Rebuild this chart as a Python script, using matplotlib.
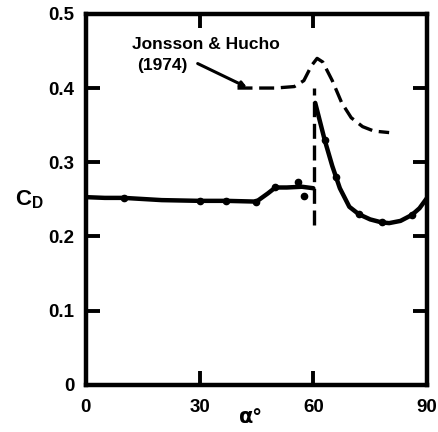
import matplotlib
matplotlib.use("Agg")
import matplotlib.pyplot as plt

# Present data (solid curve), below and above the drag jump
low_x = [0, 5, 10, 20, 30, 37, 45, 48, 50, 53, 57, 60]
low_y = [0.253, 0.252, 0.252, 0.249, 0.248, 0.248, 0.247, 0.258, 0.266, 0.266, 0.267, 0.265]
high_x = [60.5, 61.5, 63, 65, 67, 69.5, 72, 75, 78, 80, 83, 86, 88, 90]
high_y = [0.38, 0.36, 0.33, 0.295, 0.265, 0.24, 0.23, 0.223, 0.219, 0.218, 0.221, 0.229, 0.238, 0.252]
marker_x = [10, 30, 37, 45, 50, 56, 57.5, 63, 66, 72, 78, 86]
marker_y = [0.252, 0.248, 0.248, 0.247, 0.266, 0.273, 0.255, 0.33, 0.28, 0.23, 0.219, 0.229]

# Jonsson & Hucho (1974), dashed curve
ref_x = [40, 45, 50, 55, 57.5, 59.5, 61, 62.5, 65, 67.5, 70, 73, 76, 80]
ref_y = [0.40, 0.40, 0.40, 0.402, 0.41, 0.43, 0.44, 0.435, 0.41, 0.38, 0.36, 0.348, 0.342, 0.34]
jump_x = [60.3, 60.3]
jump_y = [0.215, 0.40]

xticks = [0, 30, 60, 90]
xtick_labels = ["0", "30", "60", "90"]
yticks = [0, 0.1, 0.2, 0.3, 0.4, 0.5]
ytick_labels = ["0", "0.1", "0.2", "0.3", "0.4", "0.5"]

font = {"family": "Liberation Sans", "weight": "heavy"}

fig = plt.figure(figsize=(4.38, 4.32), dpi=100)
ax = fig.add_axes([0.196, 0.109, 0.779, 0.859])

ax.plot(low_x, low_y, color="black", lw=3.2, solid_capstyle="round")
ax.plot(high_x, high_y, color="black", lw=3.2, solid_capstyle="round")
ax.plot(marker_x, marker_y, "o", color="black", ms=4.5)
ax.plot(ref_x, ref_y, color="black", lw=2.4, linestyle=(0, (4.5, 2)))
ax.plot(jump_x, jump_y, color="black", lw=2.4, linestyle=(0, (4.5, 2)))

# label with leader line to the start of the dashed curve
ax.text(12.2, 0.459, "Jonsson & Hucho", fontsize=12.5, ha="left", va="center", **font)
ax.text(13.5, 0.430, "(1974)", fontsize=12.5, ha="left", va="center", **font)
ax.annotate("", xy=(42.5, 0.401), xytext=(29.5, 0.433),
            arrowprops=dict(arrowstyle="-|>", color="black", lw=2.2,
                            mutation_scale=8, shrinkA=0, shrinkB=0))

ax.set_xlim(0, 90)
ax.set_ylim(0, 0.5)
ax.set_xticks(xticks)
ax.set_xticklabels(xtick_labels, **font, fontsize=13.5)
ax.set_yticks(yticks)
ax.set_yticklabels(ytick_labels, **font, fontsize=13.5)
ax.tick_params(direction="in", length=10, width=2.8, top=True, right=True)
ax.tick_params(axis="x", pad=10)
ax.tick_params(axis="y", pad=8)
for side in ax.spines.values():
    side.set_linewidth(3.2)

ax.set_xlabel(r"$\mathbf{\alpha}$°", fontsize=15, **font)
ax.xaxis.set_label_coords(0.48, -0.087, transform=ax.transAxes)
ax.xaxis.label.set_va("center")
ax.set_ylabel("C$_\\mathregular{D}$", fontsize=16, rotation=0, **font)
ax.yaxis.set_label_coords(-0.165, 0.47)

fig.savefig("out.png", dpi=100)
